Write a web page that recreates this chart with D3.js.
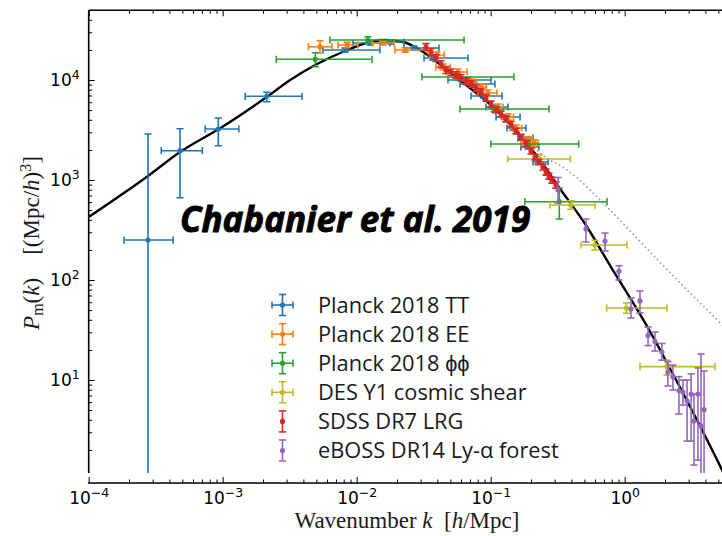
<!DOCTYPE html>
<html>
<head>
<meta charset="utf-8">
<script src="https://cdn.jsdelivr.net/npm/d3@7"></script>
<style>
  body { margin: 0; background: #fff; }
  svg { display: block; background: #fff; }
  .tick line { stroke: #000; stroke-width: 1; }
  .leg { font-family: "Open Sans", sans-serif; font-size: 21.8px; fill: #1a1a1a; }
  .lab { font-family: "Liberation Serif", serif; font-size: 23px; fill: #1a1a1a; }
</style>
</head>
<body>
<svg width="722" height="536"></svg>
<script>
// theory curves
var linK = [1e-4, 2.77e-4, 4.8e-4, 9.9e-4, 2.13e-3, 3.19e-3, 5.06e-3, 8.18e-3, 1.26e-2, 1.63e-2, 2.22e-2, 2.97e-2, 4.72e-2, 0.070, 0.1005, 0.1656, 0.2333, 0.318, 0.524, 0.751, 1.493, 2.82, 5.33, 6.0];
var linP = [427, 1096, 1905, 3388, 6761, 10000, 14450, 19500, 23990, 25100, 23990, 19950, 12590, 8318, 5623, 2800, 1585, 871, 339, 151, 33.1, 6.76, 1.26, 0.91];
var nlK = [0.1005, 0.1656, 0.2333, 0.391, 0.738, 1.545, 3.07, 5.33, 7.26];
var nlP = [5900, 2951, 1862, 1202, 537, 191, 74.1, 35.5, 22.4];

// rows: [k, P, kLo, kHi, PLo, PHi]
var planckTT = [
  [2.77e-4, 251, 1.84e-4, 4.26e-4, 0.5, 2884],
  [4.8e-4, 1963, 3.48e-4, 7.05e-4, 665, 3260],
  [9.27e-4, 3236, 7.41e-4, 1.32e-3, 2203, 4169],
  [2.13e-3, 6870, 1.47e-3, 3.91e-3, 6070, 7530],
  [8.18e-3, 19950, 5.60e-3, 1.49e-2, 19000, 20900],
  [1.26e-2, 23440, 9.38e-3, 1.77e-2, 22400, 24500],
  [1.80e-2, 23990, 1.49e-2, 2.25e-2, 23000, 25000],
  [2.68e-2, 20890, 2.25e-2, 4.11e-2, 19900, 21900],
  [3.71e-2, 16600, 3.18e-2, 6.77e-2, 15800, 17400],
  [6.77e-2, 10000, 4.80e-2, 0.1005, 9500, 10500],
  [7.50e-2, 9120, 5.90e-2, 0.1076, 8700, 9550],
  [8.91e-2, 6918, 7.13e-2, 0.1214, 6600, 7250],
  [0.104, 5370, 9.22e-2, 0.1346, 5120, 5620],
  [0.1257, 4266, 0.1096, 0.1656, 4070, 4470],
  [0.1466, 3311, 0.1324, 0.1833, 3160, 3470],
  [0.168, 2630, 0.160, 0.207, 2510, 2750],
  [0.1897, 2138, 0.168, 0.229, 2040, 2240],
  [0.2254, 1514, 0.207, 0.268, 1440, 1590]
];
var planckEE = [
  [5.32e-3, 21530, 4.36e-3, 6.55e-3, 18620, 24720],
  [8.48e-3, 22390, 7.26e-3, 1.02e-2, 21000, 23800],
  [1.57e-2, 23440, 1.30e-2, 1.90e-2, 22400, 24500],
  [2.30e-2, 19950, 1.93e-2, 3.35e-2, 19000, 21000],
  [3.97e-2, 17780, 3.50e-2, 4.50e-2, 16600, 19000],
  [4.41e-2, 13490, 3.90e-2, 5.00e-2, 12600, 14400],
  [5.71e-2, 12020, 4.64e-2, 6.66e-2, 11200, 12900],
  [7.13e-2, 9550, 6.50e-2, 7.80e-2, 8900, 10200],
  [8.47e-2, 8510, 7.70e-2, 9.30e-2, 7900, 9100],
  [9.55e-2, 7410, 8.04e-2, 0.1114, 6900, 7950],
  [0.1133, 5370, 0.103, 0.124, 5000, 5750],
  [0.1346, 4266, 0.122, 0.148, 3970, 4580],
  [0.1545, 3311, 0.140, 0.170, 3080, 3550],
  [0.190, 2512, 0.175, 0.205, 2340, 2700],
  [0.2104, 2344, 0.168, 0.2254, 2180, 2520]
];
var planckPP = [
  [4.91e-3, 16100, 2.51e-3, 1.30e-2, 13590, 18750],
  [1.21e-2, 25120, 6.32e-3, 6.32e-2, 23440, 27100],
  [5.68e-2, 10720, 3.07e-2, 0.149, 10000, 11500],
  [0.106, 5130, 5.90e-2, 0.272, 4800, 5500],
  [0.188, 2291, 0.1005, 0.453, 2140, 2450],
  [0.325, 607, 0.180, 0.738, 407, 832]
];
var desY1 = [
  [0.2307, 1622, 0.134, 0.393, 1480, 1780],
  [0.397, 562, 0.277, 0.600, 510, 620],
  [0.600, 224, 0.472, 1.04, 200, 250],
  [1.03, 52.5, 0.733, 2.07, 46.5, 59],
  [2.07, 13.6, 1.30, 4.72, 11.2, 15.8]
];
// rows: [k, P, PLo, PHi]
var sdssLRG = [
  [0.0329, 21380, 19700, 23100], [0.0358, 19050, 17600, 20600], [0.0391, 16600, 15300, 17900],
  [0.0426, 14450, 13300, 15600], [0.0464, 12590, 11600, 13600], [0.0506, 12020, 11100, 12900],
  [0.0551, 11220, 10400, 12100], [0.0601, 10470, 9700, 11300], [0.0655, 9770, 9050, 10500],
  [0.0713, 9120, 8450, 9800], [0.0776, 8318, 7700, 8950], [0.0847, 7586, 7050, 8150],
  [0.0922, 6607, 6150, 7100], [0.1005, 5754, 5350, 6150], [0.1096, 5012, 4680, 5350],
  [0.1194, 4571, 4270, 4880], [0.130, 4074, 3810, 4350], [0.1419, 3631, 3400, 3870],
  [0.1545, 3090, 2890, 3290], [0.1683, 2692, 2520, 2870], [0.1833, 2344, 2190, 2500],
  [0.200, 1950, 1820, 2080], [0.2143, 1698, 1590, 1810], [0.229, 1514, 1420, 1610],
  [0.2455, 1349, 1260, 1440], [0.259, 1202, 1120, 1290], [0.272, 1096, 1020, 1170],
  [0.2864, 1000, 930, 1070], [0.307, 891, 830, 955]
];
var ebossLya = [
  [0.318, 794, 589, 1059], [0.514, 324, 240, 407], [0.713, 245, 195, 295],
  [0.906, 122, 100, 139], [1.114, 51.3, 41.7, 66.1], [1.30, 61.7, 46.8, 77.6],
  [1.493, 27.9, 22.1, 33.9], [1.683, 24.3, 19.5, 30.2], [1.897, 19.05, 15.8, 23.2],
  [2.10, 12.0, 8.71, 15.3], [2.29, 10.8, 7.94, 14.1], [2.54, 7.85, 4.57, 10.8],
  [2.72, 7.59, 5.62, 10.0], [2.92, 6.17, 2.45, 10.0], [3.13, 7.24, 2.45, 11.5],
  [3.29, 3.89, 1.41, 7.24], [3.52, 7.24, 1.58, 13.2], [3.71, 3.47, 0.8, 18.2],
  [3.91, 5.05, 0.8, 12.3]
];

var legendNames = ["Planck 2018 TT", "Planck 2018 EE", "Planck 2018 \u03d5\u03d5", "DES Y1 cosmic shear", "SDSS DR7 LRG", "eBOSS DR14 Ly-\u03b1 forest"];
var legendColors = ["#1f77b4", "#ff7f0e", "#2ca02c", "#bcbd22", "#d62728", "#9467bd"];
var legendHasX = [true, true, true, true, false, false];

var xMajor = [1e-4, 1e-3, 1e-2, 1e-1, 1];
var xExp = ["\u22124", "\u22123", "\u22122", "\u22121", "0"];
var yMajor = [10, 100, 1000, 10000];
var yExp = ["1", "2", "3", "4"];

var svg = d3.select("svg");
var left = 88.7, topY = 10.3, bottom = 473, xAxisY = 483, W = 722;

var x = d3.scaleLog().domain([1e-4, 10]).range([left, left + 5 * 134]);
var y = d3.scaleLog().domain([1, 5e4]).range([480, 480 - 100 * Math.log10(5e4)]);

svg.append("clipPath").attr("id", "clip").append("rect")
  .attr("x", left).attr("y", topY).attr("width", W - left).attr("height", bottom - topY);
var plot = svg.append("g").attr("clip-path", "url(#clip)");

// curves
var line = d3.line().x(function(d) { return x(d[0]); }).y(function(d) { return y(d[1]); }).curve(d3.curveMonotoneX);
plot.append("path").datum(nlK.map(function(k, i) { return [k, nlP[i]]; }))
  .attr("d", line).attr("fill", "none").attr("stroke", "#9a9a9a").attr("stroke-width", 1.6)
  .attr("stroke-dasharray", "1.6,2.8");
plot.append("path").datum(linK.map(function(k, i) { return [k, linP[i]]; }))
  .attr("d", line).attr("fill", "none").attr("stroke", "#000").attr("stroke-width", 2.4);

var cap = 3.6;
function series(rows, color, withX) {
  var g = plot.append("g").attr("stroke", color).attr("fill", color).attr("stroke-width", 1.6);
  var pts = g.selectAll("g").data(rows).join("g");
  var lo = withX ? 4 : 2, hi = withX ? 5 : 3;
  if (withX) {
    pts.append("line").attr("x1", function(d) { return x(d[2]); }).attr("x2", function(d) { return x(d[3]); })
      .attr("y1", function(d) { return y(d[1]); }).attr("y2", function(d) { return y(d[1]); });
    [2, 3].forEach(function(j) {
      pts.append("line").attr("x1", function(d) { return x(d[j]); }).attr("x2", function(d) { return x(d[j]); })
        .attr("y1", function(d) { return y(d[1]) - cap; }).attr("y2", function(d) { return y(d[1]) + cap; });
    });
  }
  pts.append("line").attr("x1", function(d) { return x(d[0]); }).attr("x2", function(d) { return x(d[0]); })
    .attr("y1", function(d) { return y(d[lo]); }).attr("y2", function(d) { return y(d[hi]); });
  [lo, hi].forEach(function(j) {
    pts.append("line").attr("x1", function(d) { return x(d[0]) - cap; }).attr("x2", function(d) { return x(d[0]) + cap; })
      .attr("y1", function(d) { return y(d[j]); }).attr("y2", function(d) { return y(d[j]); });
  });
  pts.append("circle").attr("cx", function(d) { return x(d[0]); }).attr("cy", function(d) { return y(d[1]); })
    .attr("r", 2.6).attr("stroke", "none");
}
series(planckTT, legendColors[0], true);
series(planckEE, legendColors[1], true);
series(planckPP, legendColors[2], true);
series(desY1, legendColors[3], true);
series(sdssLRG, legendColors[4], false);
series(ebossLya, legendColors[5], false);

// axes
function minorTicks(lo, hi) {
  var out = [];
  for (var e = lo; e <= hi; e++) for (var m = 2; m <= 9; m++) out.push(m * Math.pow(10, e));
  return out;
}
var xMinor = minorTicks(-4, 0);
var yMinor = minorTicks(0, 4).filter(function(v) { return y(v) <= bottom && y(v) >= topY; });

function supLabels(g, exps) {
  g.selectAll(".tick text").each(function(d, i) {
    var t = d3.select(this).attr("font-family", "DejaVu Sans, sans-serif").attr("font-size", "17px")
      .attr("fill", "#000").text("10");
    t.append("tspan").attr("dy", "-0.55em").attr("font-size", "12.5px").text(exps[i]);
  });
}
var gx = svg.append("g").attr("transform", "translate(0," + xAxisY + ")")
  .call(d3.axisBottom(x).tickValues(xMajor).tickSizeInner(-6).tickSizeOuter(0).tickPadding(9).tickFormat(""));
supLabels(gx, xExp);
svg.append("g").attr("transform", "translate(0," + xAxisY + ")")
  .call(d3.axisBottom(x).tickValues(xMinor).tickSizeInner(-3.5).tickSizeOuter(0).tickFormat(""));
svg.append("g").attr("transform", "translate(0," + topY + ")")
  .call(d3.axisTop(x).tickValues(xMajor).tickSizeInner(-6).tickSizeOuter(0).tickFormat(""));
svg.append("g").attr("transform", "translate(0," + topY + ")")
  .call(d3.axisTop(x).tickValues(xMinor).tickSizeInner(-3.5).tickSizeOuter(0).tickFormat(""));
var gy = svg.append("g").attr("transform", "translate(" + left + ",0)")
  .call(d3.axisLeft(y).tickValues(yMajor).tickSizeInner(-6).tickSizeOuter(0).tickPadding(9).tickFormat(""));
supLabels(gy, yExp);
svg.append("g").attr("transform", "translate(" + left + ",0)")
  .call(d3.axisLeft(y).tickValues(yMinor).tickSizeInner(-3.5).tickSizeOuter(0).tickFormat(""));
svg.selectAll(".domain").remove();

svg.append("line").attr("x1", left).attr("x2", left).attr("y1", topY).attr("y2", bottom).attr("stroke", "#000").attr("stroke-width", 1.6);
svg.append("line").attr("x1", left).attr("x2", W).attr("y1", topY).attr("y2", topY).attr("stroke", "#000").attr("stroke-width", 1.6);
svg.append("line").attr("x1", left - 0.8).attr("x2", W).attr("y1", xAxisY).attr("y2", xAxisY).attr("stroke", "#000").attr("stroke-width", 1.6);

// axis labels
var xl = svg.append("text").attr("class", "lab").attr("x", 407).attr("y", 528).attr("text-anchor", "middle");
xl.append("tspan").text("Wavenumber ");
xl.append("tspan").attr("font-style", "italic").text("k");
xl.append("tspan").text("\u2002[");
xl.append("tspan").attr("font-style", "italic").text("h");
xl.append("tspan").text("/Mpc]");

var yl = svg.append("text").attr("class", "lab").attr("transform", "translate(39,243) rotate(-90)").attr("text-anchor", "middle");
yl.append("tspan").attr("font-style", "italic").text("P");
yl.append("tspan").attr("font-size", "16px").attr("dy", 4).text("m");
yl.append("tspan").attr("dy", -4).text("(");
yl.append("tspan").attr("font-style", "italic").text("k");
yl.append("tspan").text(")\u2003[(Mpc/");
yl.append("tspan").attr("font-style", "italic").text("h");
yl.append("tspan").text(")");
yl.append("tspan").attr("font-size", "16px").attr("dy", -8).text("3");
yl.append("tspan").attr("dy", 8).text("]");

// annotation
svg.append("text").attr("x", 180).attr("y", 232)
  .attr("font-family", "Open Sans, sans-serif").attr("font-weight", "bold").attr("font-style", "italic")
  .attr("font-size", "35px").attr("fill", "#000").attr("stroke", "#000").attr("stroke-width", 0.9)
  .text("Chabanier et al. 2019");

// legend
var leg = svg.append("g");
var rows = leg.selectAll("g").data(legendNames).join("g")
  .attr("transform", function(d, i) { return "translate(282.5," + (305 + i * 29.1) + ")"; });
rows.each(function(d, i) {
  var g = d3.select(this).attr("stroke", legendColors[i]).attr("fill", legendColors[i]).attr("stroke-width", 1.6);
  if (legendHasX[i]) {
    g.append("line").attr("x1", -10.5).attr("x2", 10.5).attr("y1", 0).attr("y2", 0);
    g.append("line").attr("x1", -10.5).attr("x2", -10.5).attr("y1", -cap).attr("y2", cap);
    g.append("line").attr("x1", 10.5).attr("x2", 10.5).attr("y1", -cap).attr("y2", cap);
  }
  g.append("line").attr("x1", 0).attr("x2", 0).attr("y1", -10.5).attr("y2", 10.5);
  g.append("line").attr("x1", -cap).attr("x2", cap).attr("y1", -10.5).attr("y2", -10.5);
  g.append("line").attr("x1", -cap).attr("x2", cap).attr("y1", 10.5).attr("y2", 10.5);
  g.append("circle").attr("r", 2.6).attr("stroke", "none");
  g.append("text").attr("class", "leg").attr("x", 35.5).attr("dy", "0.35em").attr("stroke", "none").text(d);
});
</script>
</body>
</html>
